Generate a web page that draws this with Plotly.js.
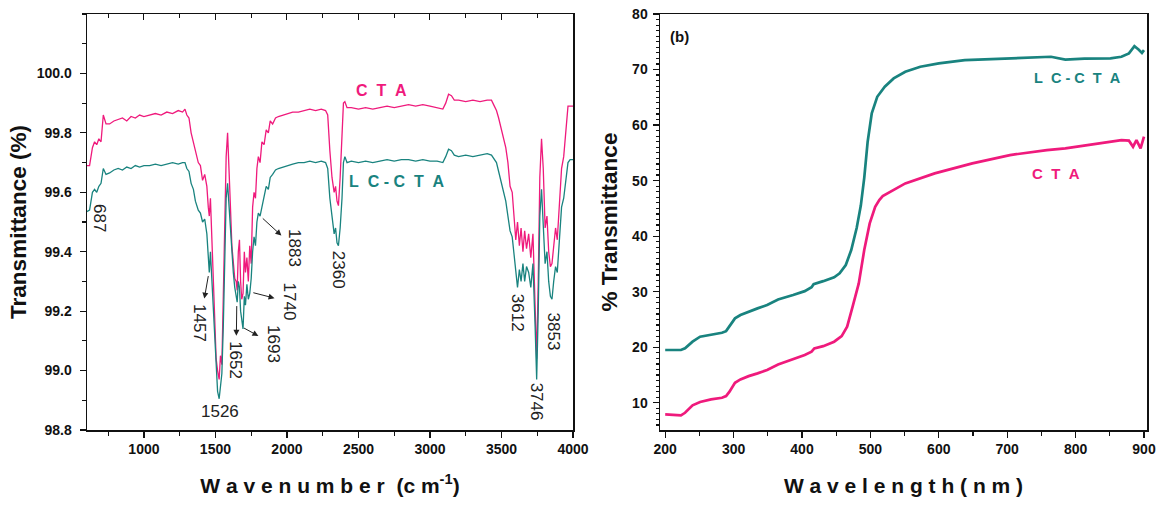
<!DOCTYPE html>
<html>
<head>
<meta charset="utf-8">
<script src="https://cdn.plot.ly/plotly-3.0.1.min.js"></script>
<style>html,body{margin:0;padding:0;background:#fff;}#chart{width:1166px;height:506px;}</style>
</head>
<body>
<div id="chart"></div>
<script>
// ---------- Panel (a): FTIR ----------
const wavenumber = [600,620,640,655,670,685,700,716,735,760,790,820,850,880,910,940,970,1000,1040,1080,1120,1160,1200,1240,1270,1287,1300,1315,1330,1346,1360,1380,1395,1410,1425,1440,1450,1457,1465,1475,1485,1495,1505,1515,1526,1535,1545,1555,1565,1575,1585,1595,1605,1615,1625,1635,1645,1652,1660,1668,1676,1684,1693,1702,1710,1720,1730,1740,1750,1760,1770,1780,1790,1800,1812,1825,1840,1855,1870,1883,1900,1920,1940,1970,2000,2040,2080,2120,2160,2200,2240,2270,2285,2300,2315,2330,2340,2350,2360,2372,2385,2395,2405,2420,2450,2500,2550,2600,2650,2700,2750,2800,2850,2900,2950,3000,3050,3090,3110,3130,3150,3170,3200,3250,3300,3350,3400,3430,3450,3465,3480,3500,3515,3530,3545,3560,3575,3590,3600,3612,3625,3637,3650,3662,3675,3690,3705,3720,3735,3746,3757,3768,3780,3792,3805,3818,3830,3842,3853,3865,3878,3890,3905,3920,3935,3950,3965,3980,4000];
const ctaIR = [99.69,99.69,99.75,99.77,99.76,99.78,99.77,99.86,99.83,99.83,99.84,99.845,99.85,99.84,99.855,99.85,99.86,99.855,99.86,99.865,99.86,99.87,99.865,99.875,99.87,99.88,99.86,99.85,99.80,99.77,99.74,99.70,99.69,99.64,99.66,99.62,99.55,99.52,99.58,99.44,99.36,99.20,99.04,99.00,98.97,99.05,99.02,99.25,99.55,99.72,99.80,99.70,99.55,99.42,99.35,99.31,99.30,99.27,99.40,99.44,99.30,99.24,99.26,99.40,99.33,99.38,99.30,99.42,99.36,99.55,99.60,99.58,99.68,99.72,99.70,99.77,99.76,99.81,99.80,99.84,99.83,99.85,99.855,99.86,99.865,99.87,99.87,99.875,99.88,99.875,99.88,99.875,99.86,99.74,99.65,99.60,99.62,99.57,99.555,99.65,99.80,99.90,99.905,99.885,99.885,99.88,99.885,99.88,99.885,99.89,99.885,99.89,99.895,99.89,99.895,99.89,99.885,99.88,99.90,99.93,99.925,99.91,99.91,99.905,99.91,99.905,99.91,99.91,99.89,99.875,99.85,99.81,99.78,99.75,99.70,99.62,99.60,99.50,99.44,99.50,99.42,99.48,99.40,99.47,99.41,99.46,99.38,99.46,99.20,99.04,99.30,99.65,99.78,99.68,99.48,99.52,99.40,99.35,99.36,99.42,99.48,99.44,99.56,99.68,99.72,99.80,99.89,99.89,99.89];
const lcctaIR = [99.535,99.54,99.60,99.61,99.60,99.62,99.63,99.68,99.66,99.665,99.675,99.68,99.675,99.685,99.68,99.69,99.685,99.69,99.69,99.695,99.69,99.695,99.70,99.695,99.70,99.70,99.68,99.67,99.63,99.61,99.57,99.54,99.53,99.50,99.51,99.46,99.40,99.33,99.40,99.30,99.22,99.10,98.98,98.93,98.905,98.96,98.99,99.15,99.40,99.58,99.63,99.55,99.48,99.38,99.33,99.28,99.25,99.23,99.30,99.28,99.20,99.16,99.14,99.25,99.22,99.29,99.24,99.26,99.31,99.40,99.45,99.42,99.50,99.53,99.52,99.55,99.58,99.62,99.61,99.65,99.66,99.675,99.68,99.685,99.69,99.695,99.70,99.70,99.705,99.70,99.705,99.70,99.68,99.58,99.52,99.46,99.48,99.43,99.42,99.48,99.58,99.70,99.72,99.70,99.705,99.70,99.705,99.70,99.705,99.71,99.705,99.71,99.71,99.705,99.71,99.705,99.705,99.70,99.72,99.745,99.74,99.725,99.72,99.725,99.72,99.725,99.73,99.725,99.71,99.70,99.67,99.63,99.60,99.57,99.52,99.47,99.45,99.38,99.32,99.28,99.34,99.30,99.36,99.30,99.35,99.33,99.28,99.36,99.15,98.97,99.20,99.52,99.61,99.50,99.36,99.40,99.30,99.25,99.24,99.30,99.35,99.33,99.45,99.55,99.58,99.64,99.70,99.71,99.71];
const peakLabels = ["687","1457","1526","1652","1693","1740","1883","2360","3612","3746","3853"];

// ---------- Panel (b): UV-Vis ----------
const wavelengthLC = [200,210,223,229,240,251,267,283,289,294,302,310,322,335,349,365,387,404,414,417,431,447,455,464,472,480,486,491,496,502,510,521,534,551,573,600,638,676,731,764,785,813,851,867,878,886,892,897,900];
const lcctaUV = [19.5,19.5,19.5,19.8,21.0,21.9,22.3,22.6,22.9,23.7,25.2,25.8,26.4,27.0,27.6,28.6,29.4,30.1,30.8,31.35,31.9,32.6,33.3,34.8,37.5,41.5,45.5,50.5,57.0,62.1,65.1,66.9,68.4,69.6,70.5,71.1,71.7,71.9,72.1,72.3,71.8,71.95,72.0,72.3,72.9,74.2,73.6,73.0,73.5];
const wavelengthCTA = [200,210,223,229,240,251,267,283,289,294,302,310,322,335,349,365,387,404,414,418,431,447,458,466,474,483,491,499,507,513,518,529,551,594,649,704,758,785,840,867,878,884,889,895,900];
const ctaUV = [7.9,7.8,7.75,8.2,9.55,10.15,10.6,10.9,11.2,12.0,13.6,14.2,14.8,15.3,15.9,16.9,17.8,18.6,19.2,19.8,20.2,21.0,22.0,23.7,27.3,31.5,37.5,42.3,45.3,46.5,47.2,48.0,49.5,51.3,53.1,54.6,55.5,55.8,56.8,57.3,57.2,56.1,57.3,55.8,57.9];

const PINK = "#ef1a7c";
const TEAL = "#19837f";
const FONT = "Liberation Sans, Arial, sans-serif";
const NB = "\u00a0";

const traces = [
  {x: wavenumber, y: ctaIR, type: "scatter", mode: "lines", line: {color: PINK, width: 1.3}, xaxis: "x", yaxis: "y", name: "CTA", hoverinfo: "skip"},
  {x: wavenumber, y: lcctaIR, type: "scatter", mode: "lines", line: {color: TEAL, width: 1.3}, xaxis: "x", yaxis: "y", name: "LC-CTA", hoverinfo: "skip"},
  {x: [], y: [], type: "scatter", mode: "lines", xaxis: "x3", yaxis: "y", showlegend: false, hoverinfo: "skip"},
  {x: wavelengthLC, y: lcctaUV, type: "scatter", mode: "lines", line: {color: TEAL, width: 2.7}, xaxis: "x2", yaxis: "y2", name: "LC-CTA UV", hoverinfo: "skip"},
  {x: wavelengthCTA, y: ctaUV, type: "scatter", mode: "lines", line: {color: PINK, width: 2.7}, xaxis: "x2", yaxis: "y2", name: "CTA UV", hoverinfo: "skip"}
];

const tickFont = {family: FONT, size: 14, color: "#111", weight: "bold"};
const xTitleFont = {family: FONT, size: 21, color: "#111", weight: "bold"};
const yTitleFont = {family: FONT, size: 22.5, color: "#111", weight: "bold"};

const dom1 = [87/1166, 573/1166];
const dom2 = [660/1166, 1147/1166];
const ydom = [1 - 430/506, 1 - 14/506];

// peak label positions (data coordinates) and rotation
const peakX = [693, 1392, 1532, 1644, 1901, 2017, 2057, 2366, 3611, 3742, 3863];
const peakY = [99.513, 99.16, 98.862, 99.035, 99.09, 99.231, 99.412, 99.338, 99.193, 98.895, 99.13];
const peakAngle = [90, 90, 0, 90, 90, 90, 90, 90, 90, 90, 90];
// arrow tails on the curves (label index -> [x, y]); the arrow head points at the label
const arrowTail = {1: [1450, 99.318], 3: [1649, 99.217], 4: [1700, 99.143], 5: [1765, 99.262], 6: [1831, 99.512]};

const annotations = [];
peakLabels.forEach((t, i) => {
  const font = {family: FONT, size: 17, color: "#222"};
  const tail = arrowTail[i];
  if (tail) {
    annotations.push({x: tail[0], y: tail[1], ax: peakX[i], ay: peakY[i], xref: "x", yref: "y", axref: "x", ayref: "y",
      text: t, textangle: peakAngle[i], font: font, showarrow: true, arrowside: "start",
      startarrowhead: 2, startarrowsize: 1.2, arrowwidth: 1, arrowcolor: "#222", startstandoff: 5, standoff: 0, borderpad: 0});
  } else {
    annotations.push({x: peakX[i], y: peakY[i], xref: "x", yref: "y", text: t, showarrow: false, textangle: peakAngle[i], font: font});
  }
});
const sp = s => s.split("").join(NB + NB).replace(NB + NB + "-" + NB + NB, NB + "-" + NB);
annotations.push(
  {x: 2658, y: 99.943, xref: "x", yref: "y", text: sp("CTA"), showarrow: false, font: {family: FONT, size: 16, color: PINK, weight: "bold"}},
  {x: 2768, y: 99.635, xref: "x", yref: "y", text: sp("LC-CTA"), showarrow: false, font: {family: FONT, size: 16, color: TEAL, weight: "bold"}},
  {x: 221, y: 75.9, xref: "x2", yref: "y2", text: "(b)", showarrow: false, font: {family: FONT, size: 15, color: "#111", weight: "bold"}},
  {x: 803, y: 68.4, xref: "x2", yref: "y2", text: sp("LC-CTA"), showarrow: false, font: {family: FONT, size: 14.5, color: TEAL, weight: "bold"}},
  {x: 771, y: 51.3, xref: "x2", yref: "y2", text: sp("CTA"), showarrow: false, font: {family: FONT, size: 15, color: PINK, weight: "bold"}}
);

const layout = {
  width: 1166, height: 506,
  margin: {l: 0, r: 0, t: 0, b: 0},
  paper_bgcolor: "#fff", plot_bgcolor: "#fff",
  showlegend: false,
  xaxis: {domain: dom1, anchor: "y", range: [602, 4000], tickmode: "array", tickvals: [1000,1500,2000,2500,3000,3500,4000],
    ticks: "outside", ticklen: 6, tickwidth: 1.2, tickcolor: "#111",
    minor: {dtick: 250, tick0: 0, ticks: "outside", ticklen: 4, tickcolor: "#111"},
    showline: true, linecolor: "#111", linewidth: 1.5, mirror: true, showgrid: false, zeroline: false,
    tickfont: tickFont, automargin: false,
    title: {text: NB+NB+NB+NB+"W a v e n u m b e r  (c m<sup>-1</sup>)", font: xTitleFont, standoff: 22}},
  xaxis3: {overlaying: "x", anchor: "y", side: "top", range: [602, 4000], tickmode: "linear", tick0: 0, dtick: 500,
    ticks: "inside", ticklen: 6, tickcolor: "#111", showticklabels: false,
    minor: {dtick: 250, tick0: 0, ticks: "inside", ticklen: 4, tickcolor: "#111"},
    showline: false, showgrid: false, zeroline: false, automargin: false},
  yaxis: {domain: ydom, anchor: "x", range: [98.8, 100.2], tickmode: "array", tickvals: [98.8,99.0,99.2,99.4,99.6,99.8,100.0],
    ticktext: ["98.8","99.0","99.2","99.4","99.6","99.8","100.0"],
    ticks: "outside", ticklen: 6, tickwidth: 1.2, tickcolor: "#111", ticklabelstandoff: 5,
    minor: {dtick: 0.1, tick0: 98.8, ticks: "outside", ticklen: 4, tickcolor: "#111"},
    showline: true, linecolor: "#111", linewidth: 1.5, mirror: true, showgrid: false, zeroline: false,
    tickfont: tickFont, automargin: false,
    title: {text: "Transmittance (%)" + NB + NB + NB, font: yTitleFont, standoff: 4}},
  xaxis2: {domain: dom2, anchor: "y2", range: [192.4, 904.4], tickmode: "linear", tick0: 0, dtick: 100,
    ticks: "outside", ticklen: 6, tickwidth: 1.2, tickcolor: "#111",
    minor: {dtick: 50, tick0: 0, ticks: "outside", ticklen: 4, tickcolor: "#111"},
    showline: true, linecolor: "#111", linewidth: 1.5, mirror: true, showgrid: false, zeroline: false,
    tickfont: tickFont, automargin: false,
    title: {text: "W a v e l e n g t h ( n m )", font: xTitleFont, standoff: 22}},
  yaxis2: {domain: ydom, anchor: "x2", range: [5.1, 80], tickmode: "linear", tick0: 0, dtick: 10,
    ticks: "outside", ticklen: 6, tickwidth: 1.2, tickcolor: "#111", ticklabelstandoff: 2,
    minor: {dtick: 1, tick0: 0, ticks: "outside", ticklen: 3, tickcolor: "#111"},
    showline: true, linecolor: "#111", linewidth: 1.5, mirror: true, showgrid: false, zeroline: false,
    tickfont: tickFont, automargin: false,
    title: {text: "% Transmittance", font: yTitleFont, standoff: 8}},
  annotations: annotations
};

Plotly.newPlot("chart", traces, layout, {staticPlot: true, displayModeBar: false});
</script>
</body>
</html>
